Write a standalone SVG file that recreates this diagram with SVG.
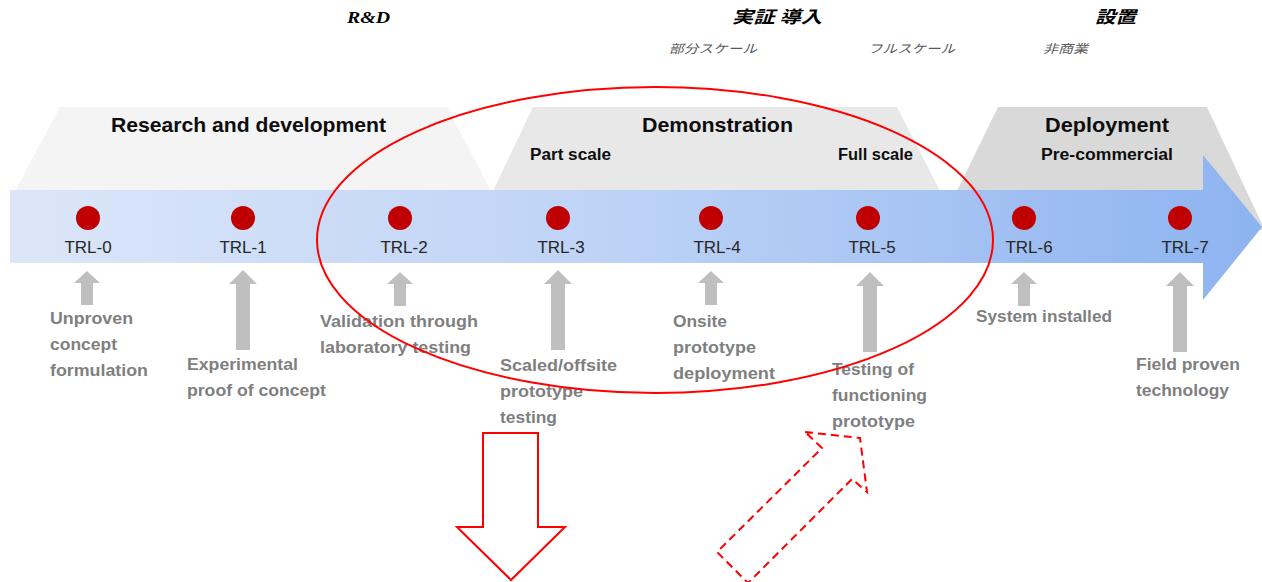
<svg xmlns="http://www.w3.org/2000/svg" width="1262" height="582" viewBox="0 0 1262 582">
<defs>
<linearGradient id="band" x1="0" y1="0" x2="1" y2="0">
<stop offset="0" stop-color="#dce6f8"/>
<stop offset="0.5" stop-color="#bcd2f6"/>
<stop offset="1" stop-color="#8db3f0"/>
</linearGradient>
<g id="upS"><polygon points="0,0 13,12 6,12 6,34 -6,34 -6,12 -13,12"/></g>
<g id="upL"><polygon points="0,0 14,14 7,14 7,80 -7,80 -7,14 -14,14"/></g>
</defs>
<style>
.hdr{font-family:"Liberation Sans",Arial,sans-serif;font-weight:bold;fill:#0d0d0d}
.sub{font-family:"Liberation Sans",Arial,sans-serif;font-weight:bold;fill:#0d0d0d;font-size:16px}
.trl{font-family:"Liberation Sans",Arial,sans-serif;font-size:17px;fill:#262626;text-anchor:middle}
.desc{font-family:"Liberation Sans",Arial,sans-serif;font-weight:bold;font-size:16px;fill:#7f7f7f}
.jp{font-family:"Noto Sans CJK JP",sans-serif;font-weight:bold;font-style:italic;font-size:17px;fill:#000}
.jps{font-family:"Noto Sans CJK JP",sans-serif;font-style:italic;font-size:12px;fill:#595959}
.dot{fill:#c00000}
.gar{fill:#bfbfbf}
</style>
<rect width="1262" height="582" fill="#ffffff"/>

<g id="top-labels">
<text x="347" y="23" font-family="Liberation Serif,serif" font-weight="bold" font-style="italic" font-size="17" textLength="43" lengthAdjust="spacingAndGlyphs">R&amp;D</text>
<text class="jp" x="732" y="23" textLength="90" lengthAdjust="spacingAndGlyphs">実証  導入</text>
<text class="jp" x="1095" y="23" textLength="41" lengthAdjust="spacingAndGlyphs">設置</text>
<text class="jps" x="669" y="53" textLength="88" lengthAdjust="spacingAndGlyphs">部分スケール</text>
<text class="jps" x="868" y="53" textLength="87" lengthAdjust="spacingAndGlyphs">フルスケール</text>
<text class="jps" x="1043" y="53" textLength="45" lengthAdjust="spacingAndGlyphs">非商業</text>
</g>

<g id="phase-rd">
<polygon points="60,107 447,107 491,191 15,191" fill="#f4f4f4"/>
<text class="hdr" x="111" y="132" font-size="21" textLength="275" lengthAdjust="spacingAndGlyphs">Research and development</text>
</g>
<g id="phase-demo">
<polygon points="533,107 897,107 940,191 493,191" fill="#e8e8e8"/>
<text class="hdr" x="642" y="132" font-size="21" textLength="151" lengthAdjust="spacingAndGlyphs">Demonstration</text>
<text class="sub" x="530" y="160" textLength="81" lengthAdjust="spacingAndGlyphs">Part scale</text>
<text class="sub" x="838" y="160" textLength="75" lengthAdjust="spacingAndGlyphs">Full scale</text>
</g>
<g id="phase-deploy">
<polygon points="998,107 1207,107 1262,224 1262,230 957,230 957,191" fill="#d9d9d9"/>
<text class="hdr" x="1045" y="132" font-size="21" textLength="124" lengthAdjust="spacingAndGlyphs">Deployment</text>
<text class="sub" x="1041" y="160" textLength="132" lengthAdjust="spacingAndGlyphs">Pre-commercial</text>
</g>

<g id="timeline">
<polygon points="10,190 1203,190 1203,155 1262,227 1203,300 1203,263 10,263" fill="url(#band)"/>
</g>

<g id="trl-0"><circle class="dot" cx="88" cy="218" r="12"/><text class="trl" x="88" y="253">TRL-0</text></g>
<g id="trl-1"><circle class="dot" cx="243" cy="218" r="12"/><text class="trl" x="243" y="253">TRL-1</text></g>
<g id="trl-2"><circle class="dot" cx="400" cy="218" r="12"/><text class="trl" x="404" y="253">TRL-2</text></g>
<g id="trl-3"><circle class="dot" cx="558" cy="218" r="12"/><text class="trl" x="561" y="253">TRL-3</text></g>
<g id="trl-4"><circle class="dot" cx="711" cy="218" r="12"/><text class="trl" x="717" y="253">TRL-4</text></g>
<g id="trl-5"><circle class="dot" cx="868" cy="218" r="12"/><text class="trl" x="872" y="253">TRL-5</text></g>
<g id="trl-6"><circle class="dot" cx="1024" cy="218" r="12"/><text class="trl" x="1029" y="253">TRL-6</text></g>
<g id="trl-7"><circle class="dot" cx="1180" cy="218" r="12"/><text class="trl" x="1185" y="253">TRL-7</text></g>

<g id="connectors" class="gar">
<use href="#upS" x="87" y="271"/>
<use href="#upL" x="243" y="270"/>
<use href="#upS" x="400" y="272"/>
<use href="#upL" x="558" y="270"/>
<use href="#upS" x="711" y="271"/>
<use href="#upL" x="870" y="272"/>
<use href="#upS" x="1024" y="272"/>
<use href="#upL" x="1180" y="272"/>
</g>

<g id="desc-0"><text class="desc" x="50" y="324" textLength="83" lengthAdjust="spacingAndGlyphs">Unproven</text><text class="desc" x="50" y="350" textLength="67" lengthAdjust="spacingAndGlyphs">concept</text><text class="desc" x="50" y="376" textLength="98" lengthAdjust="spacingAndGlyphs">formulation</text></g>
<g id="desc-1"><text class="desc" x="187" y="370" textLength="111" lengthAdjust="spacingAndGlyphs">Experimental</text><text class="desc" x="187" y="396" textLength="139" lengthAdjust="spacingAndGlyphs">proof of concept</text></g>
<g id="desc-2"><text class="desc" x="320" y="327" textLength="158" lengthAdjust="spacingAndGlyphs">Validation  through</text><text class="desc" x="320" y="353" textLength="151" lengthAdjust="spacingAndGlyphs">laboratory  testing</text></g>
<g id="desc-3"><text class="desc" x="500" y="371" textLength="117" lengthAdjust="spacingAndGlyphs">Scaled/offsite</text><text class="desc" x="500" y="397" textLength="83" lengthAdjust="spacingAndGlyphs">prototype</text><text class="desc" x="500" y="423" textLength="57" lengthAdjust="spacingAndGlyphs">testing</text></g>
<g id="desc-4"><text class="desc" x="673" y="327" textLength="54" lengthAdjust="spacingAndGlyphs">Onsite</text><text class="desc" x="673" y="353" textLength="83" lengthAdjust="spacingAndGlyphs">prototype</text><text class="desc" x="673" y="379" textLength="102" lengthAdjust="spacingAndGlyphs">deployment</text></g>
<g id="desc-5"><text class="desc" x="832" y="375" textLength="82" lengthAdjust="spacingAndGlyphs">Testing of</text><text class="desc" x="832" y="401" textLength="95" lengthAdjust="spacingAndGlyphs">functioning</text><text class="desc" x="832" y="427" textLength="83" lengthAdjust="spacingAndGlyphs">prototype</text></g>
<g id="desc-6"><text class="desc" x="976" y="322" textLength="136" lengthAdjust="spacingAndGlyphs">System installed</text></g>
<g id="desc-7"><text class="desc" x="1136" y="370" textLength="104" lengthAdjust="spacingAndGlyphs">Field proven</text><text class="desc" x="1136" y="396" textLength="93" lengthAdjust="spacingAndGlyphs">technology</text></g>

<g id="highlight-ellipse">
<ellipse cx="655" cy="240" rx="338" ry="153" fill="none" stroke="#ff0000" stroke-width="2"/>
</g>
<g id="down-arrow">
<polygon points="483,433 538,433 538,527 565,527 511,580 457,527 483,527" fill="#ffffff" stroke="#ff0000" stroke-width="2"/>
</g>
<g id="dashed-arrow">
<polygon points="805,432 860,438 867,492 852,479 748,583 717,552 822,448" fill="none" stroke="#ff0000" stroke-width="2" stroke-dasharray="8,5"/>
</g>
</svg>
